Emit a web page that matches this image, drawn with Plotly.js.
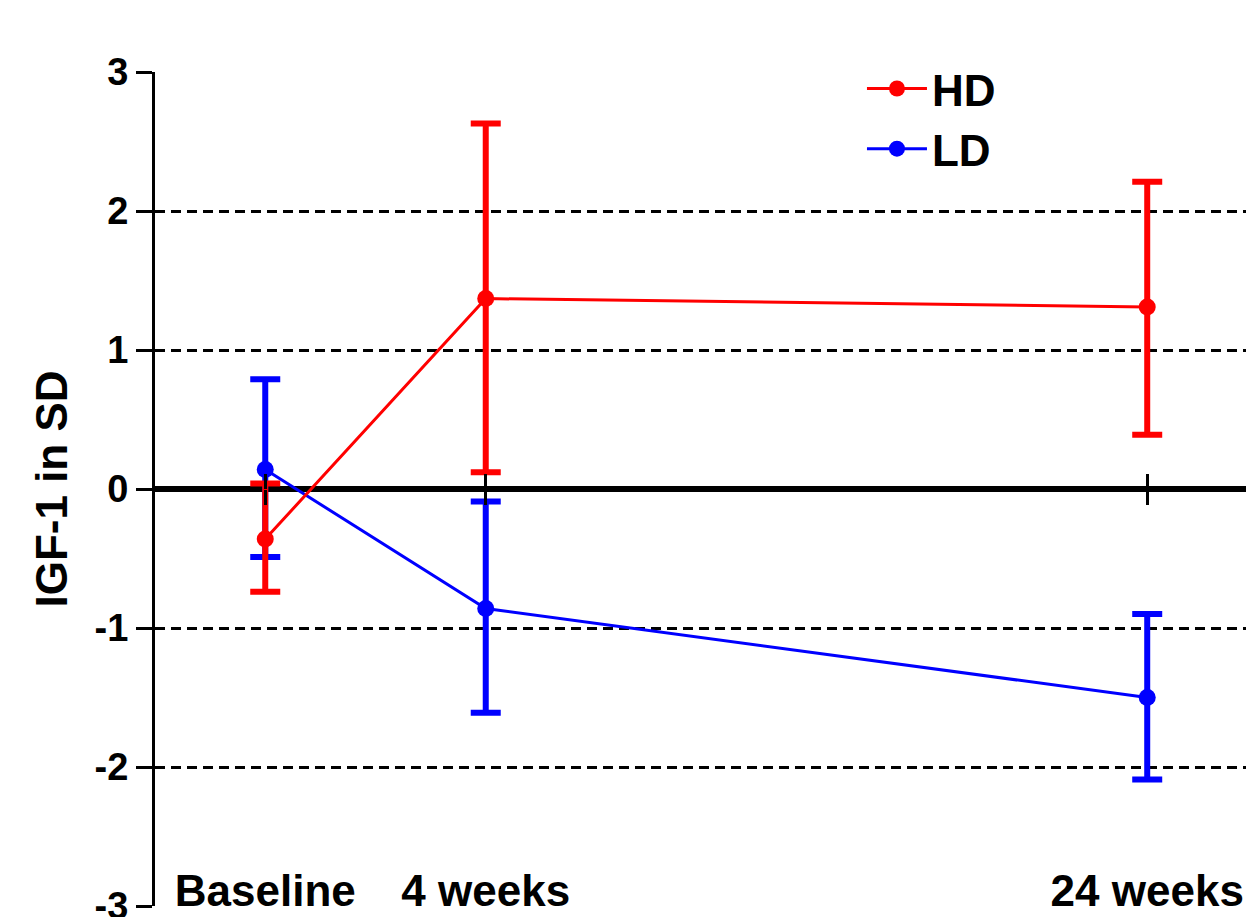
<!DOCTYPE html>
<html>
<head>
<meta charset="utf-8">
<script src="https://cdn.plot.ly/plotly-3.0.1.min.js"></script>
<style>html,body{margin:0;padding:0;background:#fff;}#chart{width:1246px;height:917px;}</style>
</head>
<body>
<div id="chart"></div>
<script>
// categories (placed at ordinal positions 0, 1, 4 as in the original)
const xLabels = ['Baseline', '4 weeks', '24 weeks'];
const xPos = [0, 1, 4];

// HD series: mean and asymmetric error extents
const hdMean = [-0.36, 1.37, 1.31];
const hdErrPlus = [0.40, 1.26, 0.90];
const hdErrMinus = [0.38, 1.25, 0.92];

// LD series
const ldMean = [0.14, -0.86, -1.50];
const ldErrPlus = [0.65, 0.77, 0.60];
const ldErrMinus = [0.63, 0.75, 0.59];

// y-axis ticks and dashed reference lines
const yTicks = [-3, -2, -1, 0, 1, 2, 3];
const yTickText = ['-3', '-2', '-1', '0', '1', '2', '3'];
const gridVals = [-2, -1, 1, 2];

const FONT = 'Liberation Sans, Arial, sans-serif';
const yDom0 = 11 / 845;
const zeroFrac = yDom0 + (1 - yDom0) * 0.5;
const xRange = [-0.5, 4.448];

function series(name, y, plus, minus, color, rank) {
  return {
    type: 'scatter', mode: 'lines+markers', name: name,
    x: xPos, y: y, xaxis: 'x', yaxis: 'y',
    line: {color: color, width: 3},
    marker: {color: color, size: 17, symbol: 'circle'},
    error_y: {type: 'data', symmetric: false, array: plus, arrayminus: minus,
      color: color, thickness: 6, width: 15},
    legendrank: rank
  };
}

const data = [
  {type: 'scatter', mode: 'markers', x: xPos, y: xPos.map(() => null), xaxis: 'x2', yaxis: 'y', showlegend: false, hoverinfo: 'skip'},
  {type: 'scatter', mode: 'markers', x: xPos, y: xPos.map(() => null), xaxis: 'x3', yaxis: 'y', showlegend: false, hoverinfo: 'skip'},
  {type: 'scatter', mode: 'markers', x: xPos, y: xPos.map(() => null), xaxis: 'x', yaxis: 'y2', showlegend: false, hoverinfo: 'skip'},
  series('LD', ldMean, ldErrPlus, ldErrMinus, '#0000FF', 2),
  series('HD', hdMean, hdErrPlus, hdErrMinus, '#FF0000', 1)
];

const layout = {
  width: 1246, height: 917,
  margin: {l: 155, r: 0, t: 72, b: 0, pad: 0},
  paper_bgcolor: '#ffffff', plot_bgcolor: '#ffffff',
  font: {family: FONT, color: '#000', weight: 'bold'},
  showlegend: true,
  legend: {x: 0.648, y: 1.022, xanchor: 'left', yanchor: 'top',
    font: {family: FONT, size: 44, color: '#000', weight: 'bold'},
    bgcolor: 'rgba(0,0,0,0)', itemwidth: 60, tracegroupgap: 0},
  xaxis: {range: xRange, tickvals: xPos, ticktext: xLabels,
    anchor: 'free', position: 0.066, ticklabeloverflow: 'allow',
    showline: false, showgrid: false, zeroline: false, ticks: '',
    tickfont: {family: FONT, size: 44, color: '#000', weight: 'bold'}, fixedrange: true},
  xaxis2: {overlaying: 'x', range: xRange, tickvals: xPos, anchor: 'free', position: zeroFrac,
    showline: false, showgrid: false, zeroline: false, showticklabels: false,
    ticks: 'outside', ticklen: 15, tickwidth: 3, tickcolor: '#000'},
  xaxis3: {overlaying: 'x', range: xRange, tickvals: xPos, anchor: 'free', position: zeroFrac,
    showline: false, showgrid: false, zeroline: false, showticklabels: false,
    ticks: 'inside', ticklen: 15, tickwidth: 3, tickcolor: '#000'},
  yaxis: {domain: [yDom0, 1], range: [-3, 3], tickvals: yTicks, ticktext: yTickText,
    ticklabeloverflow: 'allow',
    showline: true, linewidth: 3, linecolor: '#000',
    ticks: 'outside', ticklen: 16, tickwidth: 3, tickcolor: '#000',
    showgrid: false, zeroline: true, zerolinewidth: 6, zerolinecolor: '#000',
    tickfont: {family: FONT, size: 38, color: '#000', weight: 'bold'},
    title: {text: 'IGF-1 in SD', standoff: 14,
      font: {family: FONT, size: 44, color: '#000', weight: 'bold'}}},
  yaxis2: {overlaying: 'y', range: [-3, 3], tickvals: gridVals,
    showticklabels: false, ticks: '', showline: false, zeroline: false,
    showgrid: true, gridcolor: '#000', gridwidth: 3, griddash: '10px,6px'}
};

Plotly.newPlot('chart', data, layout, {displayModeBar: false, staticPlot: true});
</script>
</body>
</html>
